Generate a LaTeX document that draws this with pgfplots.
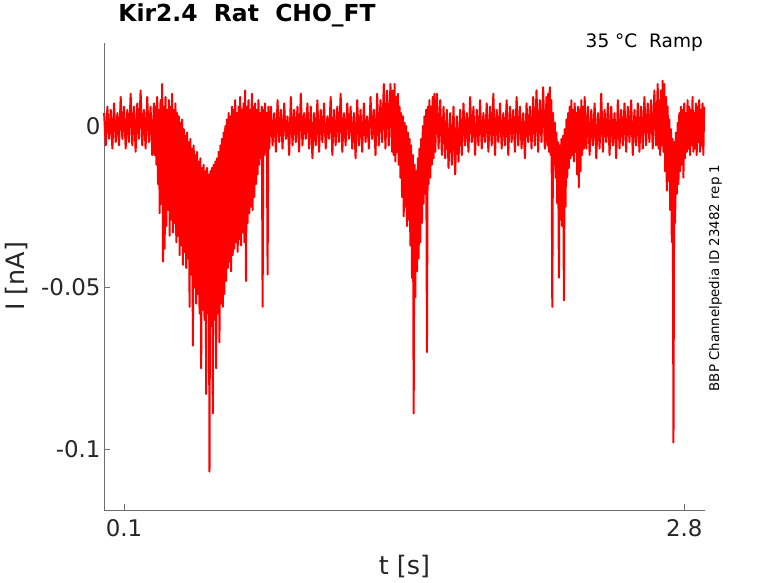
\documentclass[border=0pt]{standalone}
\usepackage{fontspec}
\setmainfont{DejaVu Sans}
\usepackage{pgfplots}
\pgfplotsset{compat=1.18}
\definecolor{txtgray}{RGB}{38,38,38}
\definecolor{axgray}{RGB}{110,110,110}
\begin{document}
\begin{tikzpicture}
\useasboundingbox (-104bp,-73bp) rectangle (674bp,510bp);
\begin{axis}[
  scale only axis,
  width=601bp, height=467bp,
  xmin=0.0036, xmax=2.9,
  ymin=-0.1189, ymax=0.0257,
  clip=false,
  axis x line*=bottom, axis y line*=left,
  axis line style={axgray,-},
  tick align=inside,
  major tick length=6bp,
  tick style={axgray, line width=0.6bp},
  xtick={0.1,2.8}, xticklabels={0.1,2.8},
  ytick={-0.1,-0.05,0}, yticklabels={-0.1,-0.05,0},
  ticklabel style={font=\fontsize{23}{27}\selectfont, color=txtgray},
  xticklabel style={yshift=-6bp},
  /pgf/number format/assume math mode=true,
  xlabel={t [s]},
  xlabel style={at={(axis description cs:0.5,-0.121)}, anchor=center, font=\fontsize{25.5}{30}\selectfont, color=txtgray},
  ylabel={I [nA]},
  ylabel style={at={(axis description cs:-0.1448,0.5)}, anchor=center, rotate=0, font=\fontsize{25.5}{30}\selectfont, color=txtgray},
  title={\bfseries Kir2.4\ \ Rat\ \ CHO\_FT},
  title style={at={(axis description cs:0.238,1.0343)}, anchor=base, font=\fontsize{23.5}{28}\selectfont, color=black},
]
\addplot[red, line width=2.0bp, line join=round] table {
0.004 0.004
0.012 -0.006
0.020 0.006
0.028 -0.004
0.036 0.005
0.044 -0.007
0.052 0.007
0.060 -0.005
0.068 0.004
0.076 -0.006
0.084 0.009
0.092 -0.004
0.100 0.006
0.108 -0.007
0.116 0.005
0.124 -0.005
0.132 0.010
0.140 -0.006
0.148 0.006
0.156 -0.008
0.164 0.007
0.172 -0.004
0.180 0.011
0.188 -0.006
0.196 0.005
0.204 -0.007
0.212 0.009
0.220 -0.005
0.228 0.006
0.236 -0.009
0.244 0.007
0.248 -0.009
0.252 0.006
0.256 -0.012
0.260 0.009
0.264 -0.018
0.268 0.005
0.272 -0.027
0.276 0.008
0.280 -0.024
0.284 0.013
0.288 -0.042
0.292 0.006
0.296 -0.038
0.300 0.009
0.304 -0.031
0.308 0.005
0.312 -0.026
0.316 0.008
0.320 -0.034
0.324 0.006
0.328 -0.029
0.332 0.010
0.336 -0.033
0.340 0.005
0.344 -0.030
0.348 0.007
0.352 -0.036
0.356 0.004
0.360 -0.034
0.364 0.003
0.368 -0.040
0.372 0.001
0.376 -0.037
0.380 0.002
0.384 -0.043
0.388 -0.001
0.392 -0.039
0.396 -0.003
0.400 -0.044
0.404 -0.002
0.408 -0.041
0.412 -0.005
0.416 -0.056
0.420 -0.004
0.424 -0.046
0.428 -0.007
0.432 -0.068
0.436 -0.006
0.440 -0.050
0.444 -0.009
0.448 -0.055
0.452 -0.008
0.456 -0.052
0.460 -0.011
0.464 -0.058
0.468 -0.010
0.472 -0.075
0.476 -0.013
0.480 -0.057
0.484 -0.012
0.488 -0.060
0.492 -0.014
0.496 -0.083
0.500 -0.013
0.504 -0.058
0.508 -0.015
0.512 -0.107
0.516 -0.014
0.520 -0.062
0.524 -0.013
0.528 -0.089
0.532 -0.012
0.536 -0.060
0.540 -0.011
0.544 -0.075
0.548 -0.010
0.552 -0.058
0.556 -0.008
0.560 -0.067
0.564 -0.006
0.568 -0.055
0.572 -0.004
0.576 -0.056
0.580 -0.002
0.584 -0.052
0.588 0.000
0.592 -0.048
0.596 0.002
0.600 -0.044
0.604 0.004
0.608 -0.042
0.612 0.003
0.616 -0.045
0.620 0.006
0.624 -0.040
0.628 0.005
0.632 -0.038
0.636 0.008
0.640 -0.036
0.644 0.004
0.648 -0.039
0.652 0.006
0.656 -0.035
0.660 0.009
0.664 -0.037
0.668 0.005
0.672 -0.033
0.676 0.007
0.680 -0.036
0.684 0.011
0.688 -0.048
0.692 0.006
0.696 -0.030
0.700 0.008
0.704 -0.027
0.708 0.005
0.712 -0.025
0.716 0.010
0.720 -0.026
0.724 0.006
0.728 -0.022
0.732 0.007
0.736 -0.018
0.740 0.005
0.744 -0.015
0.748 0.008
0.752 -0.012
0.756 0.004
0.760 -0.010
0.764 0.006
0.768 -0.056
0.772 0.005
0.776 -0.009
0.780 0.007
0.784 -0.008
0.788 0.004
0.792 -0.046
0.796 0.006
0.800 -0.007
0.808 0.006
0.816 -0.006
0.824 0.004
0.832 -0.008
0.840 0.008
0.848 -0.005
0.856 0.005
0.864 -0.007
0.872 0.007
0.880 -0.004
0.888 0.003
0.896 -0.009
0.904 0.009
0.912 -0.006
0.920 0.005
0.928 -0.005
0.936 0.006
0.944 -0.008
0.952 0.010
0.960 -0.006
0.968 0.004
0.976 -0.004
0.984 0.007
0.992 -0.007
1.000 0.006
1.008 -0.010
1.016 0.004
1.024 -0.006
1.032 0.008
1.040 -0.008
1.048 0.005
1.056 -0.005
1.064 0.007
1.072 -0.007
1.080 0.003
1.088 -0.004
1.096 0.009
1.104 -0.009
1.112 0.005
1.120 -0.006
1.128 0.006
1.136 -0.005
1.144 0.010
1.152 -0.008
1.160 0.004
1.168 -0.006
1.176 0.007
1.184 -0.004
1.192 0.006
1.200 -0.007
1.208 0.004
1.216 -0.010
1.224 0.008
1.232 -0.006
1.240 0.005
1.248 -0.008
1.256 0.007
1.264 -0.005
1.272 0.003
1.280 -0.007
1.288 0.009
1.296 -0.004
1.304 0.005
1.312 -0.009
1.320 0.010
1.328 -0.006
1.336 0.008
1.344 -0.005
1.352 0.013
1.360 -0.007
1.368 0.011
1.376 -0.006
1.384 0.013
1.392 -0.008
1.396 0.011
1.400 -0.009
1.404 0.013
1.408 -0.011
1.412 0.009
1.416 -0.008
1.420 0.010
1.424 -0.012
1.428 0.006
1.432 -0.016
1.436 0.004
1.440 -0.022
1.444 0.003
1.448 -0.028
1.452 0.001
1.456 -0.025
1.460 0.000
1.464 -0.031
1.468 -0.002
1.472 -0.029
1.476 -0.004
1.480 -0.037
1.484 -0.006
1.488 -0.047
1.492 -0.009
1.496 -0.089
1.500 -0.012
1.504 -0.053
1.508 -0.014
1.512 -0.045
1.516 -0.010
1.520 -0.041
1.524 -0.007
1.528 -0.036
1.532 -0.004
1.536 -0.030
1.540 0.000
1.544 -0.024
1.548 0.003
1.552 -0.021
1.556 0.005
1.560 -0.070
1.564 0.006
1.568 -0.018
1.572 0.008
1.576 -0.016
1.580 0.006
1.584 -0.012
1.588 0.009
1.592 -0.010
1.596 0.010
1.600 -0.008
1.608 0.010
1.616 -0.007
1.624 0.008
1.632 -0.009
1.640 0.006
1.648 -0.010
1.656 0.005
1.664 -0.013
1.672 0.004
1.680 -0.012
1.688 0.006
1.696 -0.015
1.704 0.003
1.712 -0.011
1.720 0.005
1.728 -0.009
1.736 0.007
1.744 -0.006
1.752 0.004
1.760 -0.008
1.768 0.009
1.776 -0.005
1.784 0.006
1.792 -0.009
1.800 0.005
1.808 -0.006
1.816 0.008
1.824 -0.007
1.832 0.004
1.840 -0.005
1.848 0.007
1.856 -0.008
1.864 0.006
1.872 -0.006
1.880 0.010
1.888 -0.009
1.896 0.005
1.904 -0.005
1.912 0.007
1.920 -0.007
1.928 0.004
1.936 -0.006
1.944 0.008
1.952 -0.009
1.960 0.006
1.968 -0.005
1.976 0.005
1.984 -0.008
1.992 0.009
2.000 -0.006
2.008 0.006
2.016 -0.007
2.024 0.004
2.032 -0.010
2.040 0.007
2.048 -0.005
2.056 0.006
2.064 -0.007
2.072 0.009
2.080 -0.006
2.088 0.011
2.096 -0.008
2.104 0.008
2.112 -0.005
2.120 0.012
2.128 -0.007
2.136 0.009
2.140 -0.006
2.144 0.010
2.148 -0.008
2.152 0.012
2.156 -0.009
2.160 0.008
2.164 -0.056
2.168 0.004
2.172 -0.012
2.176 0.001
2.180 -0.016
2.184 -0.002
2.188 -0.024
2.192 -0.005
2.196 -0.047
2.200 -0.006
2.204 -0.029
2.208 -0.004
2.212 -0.031
2.216 -0.003
2.220 -0.054
2.224 -0.001
2.228 -0.025
2.232 0.002
2.236 -0.016
2.240 0.004
2.244 -0.013
2.248 0.006
2.252 -0.010
2.256 0.008
2.260 -0.009
2.264 0.005
2.268 -0.011
2.272 0.007
2.276 -0.008
2.280 0.004
2.284 -0.015
2.288 0.006
2.292 -0.019
2.296 0.005
2.300 -0.014
2.304 0.008
2.308 -0.009
2.312 0.006
2.316 -0.007
2.320 0.009
2.328 -0.007
2.336 0.006
2.344 -0.009
2.352 0.005
2.360 -0.006
2.368 0.007
2.376 -0.010
2.384 0.004
2.392 -0.007
2.400 0.010
2.408 -0.008
2.416 0.005
2.424 -0.005
2.432 0.007
2.440 -0.009
2.448 0.006
2.456 -0.006
2.464 0.004
2.472 -0.010
2.480 0.008
2.488 -0.007
2.496 0.005
2.504 -0.006
2.512 0.007
2.520 -0.008
2.528 0.006
2.536 -0.005
2.544 0.008
2.552 -0.009
2.560 0.005
2.568 -0.006
2.576 0.007
2.584 -0.008
2.592 0.006
2.600 -0.007
2.608 0.009
2.616 -0.006
2.624 0.007
2.632 -0.005
2.640 0.008
2.648 -0.007
2.656 0.011
2.664 -0.006
2.672 0.013
2.676 -0.007
2.680 0.008
2.684 -0.009
2.688 0.011
2.692 -0.006
2.696 0.014
2.700 -0.008
2.704 0.013
2.708 -0.014
2.712 0.009
2.716 -0.020
2.720 0.006
2.724 -0.017
2.728 0.002
2.732 -0.026
2.736 -0.001
2.740 -0.036
2.744 -0.004
2.748 -0.098
2.752 -0.005
2.756 -0.030
2.760 -0.002
2.764 -0.021
2.768 0.001
2.772 -0.018
2.776 0.004
2.780 -0.014
2.784 0.006
2.788 -0.012
2.792 0.005
2.796 -0.016
2.800 0.007
2.804 -0.010
2.808 0.004
2.812 -0.008
2.816 0.008
2.820 -0.007
2.824 0.006
2.828 -0.009
2.832 0.005
2.836 -0.006
2.840 0.009
2.844 -0.008
2.848 0.004
2.852 -0.007
2.856 0.007
2.860 -0.009
2.864 0.006
2.868 -0.005
2.872 0.008
2.876 -0.008
2.880 0.005
2.884 -0.006
2.888 0.007
2.892 -0.009
2.896 0.006
};
\node[anchor=base east, inner sep=0pt, font=\fontsize{18.6}{22}\selectfont, color=black] at (axis description cs:0.9967,0.9914) {35 °C\ \ Ramp};
\node[anchor=base, rotate=90, font=\fontsize{13.4}{16}\selectfont, color=black] at (axis description cs:1.0233,0.4968) {BBP Channelpedia ID 23482 rep 1};
\end{axis}
\end{tikzpicture}
\end{document}
